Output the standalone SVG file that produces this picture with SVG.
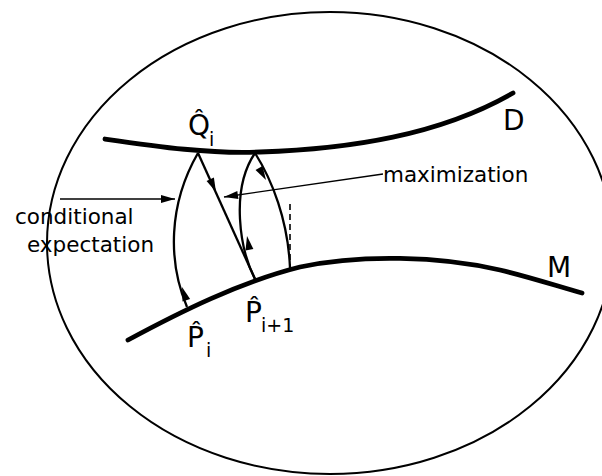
<svg xmlns="http://www.w3.org/2000/svg" xmlns:xlink="http://www.w3.org/1999/xlink" width="602" height="476" viewBox="0 0 602 476">
<style>
.bg{fill:#fff}
.frame{fill:none;stroke:#000;stroke-width:2}
.manifold{fill:none;stroke:#000;stroke-width:4.8;stroke-linecap:round}
.proj{fill:none;stroke:#000;stroke-width:2.3}
.lead{fill:none;stroke:#000;stroke-width:1.4}
.dash{fill:none;stroke:#000;stroke-width:1.6;stroke-dasharray:6 4}
.lbl{font-family:"DejaVu Sans",sans-serif;font-size:21.5px;fill:#000}
.big{font-family:"DejaVu Sans",sans-serif;font-size:28px;fill:#000}
.sub{font-size:19px}
.ah{fill:#000}
</style>
<defs>
<path id="ah" d="M0,0 L-14,-4 L-14,4 Z"/>
</defs>
<rect class="bg" x="0" y="0" width="602" height="476"/>
<g id="space"><ellipse class="frame" cx="330" cy="243" rx="283" ry="231"/></g>
<g id="D">
<path class="manifold" d="M105,139 C160,147 210,154 260,152 C350,149 440,135 513,93"/>
<text class="big" x="503" y="130">D</text>
</g>
<g id="M">
<path class="manifold" d="M128,340 C180,312 240,282 300,267 C360,254 440,256 500,270 C530,277 560,287 582,293"/>
<text class="big" x="547" y="277">M</text>
</g>
<g id="Qi">
<text class="big" x="188" y="135">Q&#x302;<tspan class="sub" x="209" y="146">i</tspan></text>
</g>
<g id="Pi">
<text class="big" x="187" y="347">P&#x302;<tspan class="sub" x="206" y="357">i</tspan></text>
</g>
<g id="Pi1">
<text class="big" x="245" y="322">P&#x302;<tspan class="sub" x="261" y="332">i+1</tspan></text>
</g>
<g id="labels">
<text class="lbl" x="15" y="224">conditional</text>
<text class="lbl" x="27" y="252">expectation</text>
<text class="lbl" x="383" y="182">maximization</text>
</g>
<g id="connectors">
<path class="proj" d="M187,307 C168,262 168,205 198,153"/>
<path class="proj" d="M198,153 L255,279"/>
<path class="proj" d="M255,279 C240,250 230,190 255,153"/>
<path class="proj" d="M255,153 C272,180 288,220 290,268"/>
<path class="dash" d="M290,204 L290,266"/>
<path class="lead" d="M60,199 L175,199"/>
<path class="lead" d="M383,174 L224,197"/>
<use class="ah" xlink:href="#ah" transform="translate(182,287) rotate(-108)"/>
<use class="ah" xlink:href="#ah" transform="translate(216,192) rotate(65.7)"/>
<use class="ah" xlink:href="#ah" transform="translate(247,236) rotate(-100)"/>
<use class="ah" xlink:href="#ah" transform="translate(266,180) rotate(60)"/>
<use class="ah" xlink:href="#ah" transform="translate(175,199) rotate(0)"/>
<use class="ah" xlink:href="#ah" transform="translate(224,197) rotate(171.8)"/>
</g>
</svg>
